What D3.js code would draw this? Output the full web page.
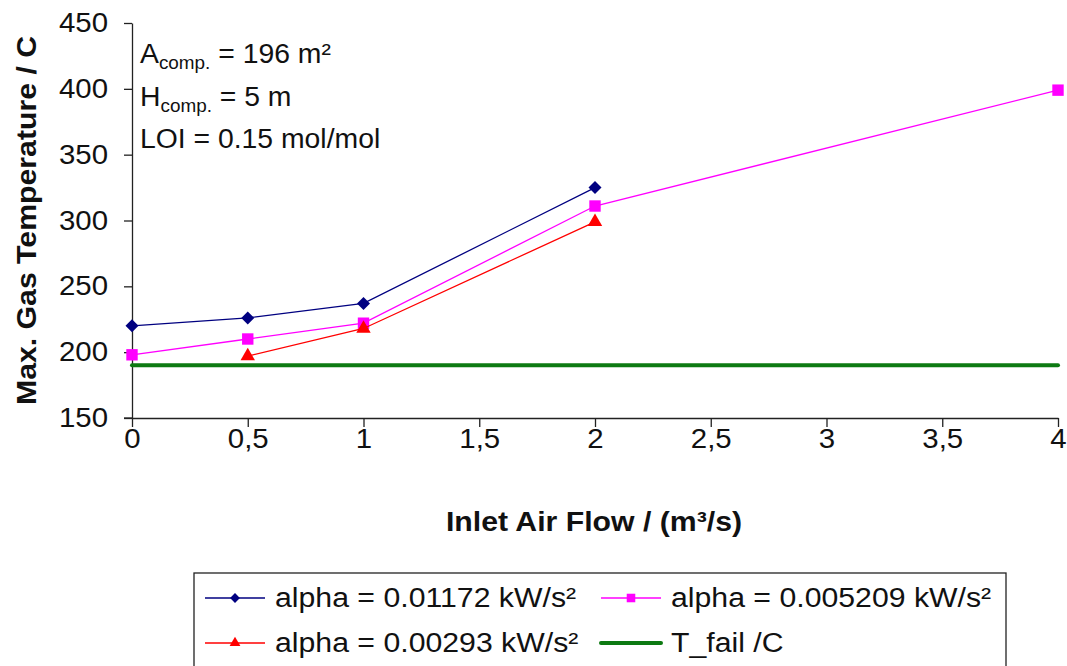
<!DOCTYPE html>
<html>
<head>
<meta charset="utf-8">
<script src="https://cdn.jsdelivr.net/npm/d3@7"></script>
<style>
  html, body { margin: 0; padding: 0; background: #fff; }
  svg { display: block; }
  text { font-family: "Liberation Sans", Arial, sans-serif; fill: #111; }
</style>
</head>
<body>
<svg id="chart" width="1067" height="666"></svg>
<script>
// Inlet air flow (m³/s) and max. gas temperature (C) for each fire growth rate
const flowHigh = [0, 0.5, 1, 2];
const tempHigh = [220, 226, 237, 325];          // alpha = 0.01172 kW/s²
const flowMid = [0, 0.5, 1, 2, 4];
const tempMid = [198, 210, 222, 311, 399];      // alpha = 0.005209 kW/s²
const flowLow = [0.5, 1, 2];
const tempLow = [197, 218, 299];                // alpha = 0.00293 kW/s²
const flowFail = [0, 4];
const tempFail = [190, 190];                    // T_fail /C

const xTicks = [0, 0.5, 1, 1.5, 2, 2.5, 3, 3.5, 4];
const yTicks = [150, 200, 250, 300, 350, 400, 450];

const legendLabels = [
  "alpha = 0.01172 kW/s²",
  "alpha = 0.005209 kW/s²",
  "alpha = 0.00293 kW/s²",
  "T_fail /C"
];

const svg = d3.select("#chart");
const W = 1067, H = 666;
const plot = { left: 132, right: 1058, top: 23, bottom: 418 };

svg.append("rect").attr("width", W).attr("height", H).attr("fill", "#fff");

const x = d3.scaleLinear().domain([0, 4]).range([plot.left, plot.right]);
const y = d3.scaleLinear().domain([150, 450]).range([plot.bottom, plot.top]);

const FS = 27;
const WIDE = 1.09;

// Y axis
const yAxis = svg.append("g")
  .attr("transform", `translate(${plot.left},0)`)
  .call(d3.axisLeft(y).tickValues(yTicks).tickSize(8).tickSizeOuter(0).tickPadding(16).tickFormat(d3.format("d")));
// X axis
const xAxis = svg.append("g")
  .attr("transform", `translate(0,${plot.bottom})`)
  .call(d3.axisBottom(x).tickValues(xTicks).tickSize(9).tickSizeOuter(0).tickPadding(2)
    .tickFormat(d => String(d).replace(".", ",")));

[yAxis, xAxis].forEach(g => {
  g.selectAll("path.domain").attr("stroke", "#222").attr("stroke-width", 1.3);
  g.selectAll(".tick line").attr("stroke", "#222").attr("stroke-width", 1.3);
  g.selectAll(".tick text")
    .attr("font-size", FS)
    .attr("fill", "#111")
    .style("font-family", "'Liberation Sans', Arial, sans-serif");
});
// extend the x axis line left to meet the lowest y tick
svg.append("line")
  .attr("x1", plot.left - 8).attr("x2", plot.left)
  .attr("y1", plot.bottom).attr("y2", plot.bottom)
  .attr("stroke", "#222").attr("stroke-width", 1.3);

// widen the tick label glyphs horizontally around their anchor
yAxis.selectAll(".tick text").each(function () {
  const t = d3.select(this);
  const xo = +t.attr("x");
  t.attr("x", xo / WIDE).attr("transform", `scale(${WIDE},1)`);
});
xAxis.selectAll(".tick text").attr("transform", `scale(${WIDE},1)`);

// Axis titles
svg.append("g")
  .attr("transform", `translate(${(plot.left + plot.right) / 2 - 1},531) scale(1.12,1)`)
  .append("text")
  .attr("text-anchor", "middle")
  .attr("font-size", FS).attr("font-weight", "bold")
  .text("Inlet Air Flow / (m³/s)");

svg.append("g")
  .attr("transform", `translate(36,${(plot.top + plot.bottom) / 2}) rotate(-90) scale(1.12,1)`)
  .append("text")
  .attr("text-anchor", "middle")
  .attr("font-size", FS).attr("font-weight", "bold")
  .text("Max. Gas Temperature / C");

// Annotation block
const notes = [
  { main: "A", sub: "comp.", rest: " = 196 m²", y: 63 },
  { main: "H", sub: "comp.", rest: " = 5 m", y: 106 },
  { main: "LOI = 0.15 mol/mol", sub: null, rest: null, y: 148 }
];
notes.forEach(n => {
  const t = svg.append("g")
    .attr("transform", `translate(140,${n.y}) scale(1.05,1)`)
    .append("text").attr("font-size", FS);
  t.append("tspan").text(n.main);
  if (n.sub) {
    t.append("tspan").attr("font-size", 18).attr("dy", 6).text(n.sub);
    t.append("tspan").attr("dy", -6).text(n.rest);
  }
});

// Series
const series = [
  { xs: flowHigh, ys: tempHigh, color: "#000080", marker: "diamond", width: 1.3 },
  { xs: flowMid, ys: tempMid, color: "#ff00ff", marker: "square", width: 1.3 },
  { xs: flowLow, ys: tempLow, color: "#ff0000", marker: "triangle", width: 1.3 },
  { xs: flowFail, ys: tempFail, color: "#0d7a12", marker: null, width: 4 }
];

const line = d3.line().x(d => x(d[0])).y(d => y(d[1]));

function markerPath(kind, scale) {
  if (kind === "diamond") return d3.symbol(d3.symbolSquare, 85 * scale * scale)();
  if (kind === "square") return d3.symbol(d3.symbolSquare, 130 * scale * scale)();
  if (kind === "triangle") return d3.symbol(d3.symbolTriangle, 90 * scale * scale)();
  return null;
}
function markerTransform(kind, cx, cy) {
  return kind === "diamond" ? `translate(${cx},${cy}) rotate(45)` : `translate(${cx},${cy})`;
}

// green failure line first so the data series sit above it
[series[3], series[0], series[1], series[2]].forEach(s => {
  const pts = s.xs.map((v, i) => [v, s.ys[i]]);
  svg.append("path")
    .datum(pts)
    .attr("d", line)
    .attr("fill", "none")
    .attr("stroke", s.color)
    .attr("stroke-width", s.width)
    .attr("stroke-linecap", s.marker ? "butt" : "round");
  if (s.marker) {
    svg.append("g").selectAll("path")
      .data(pts).join("path")
      .attr("d", markerPath(s.marker, 1))
      .attr("transform", d => markerTransform(s.marker, x(d[0]), y(d[1])))
      .attr("fill", s.color);
  }
});

// Legend
const lg = { left: 194, top: 573, right: 1006, bottom: 668 };
svg.append("rect")
  .attr("x", lg.left).attr("y", lg.top)
  .attr("width", lg.right - lg.left).attr("height", lg.bottom - lg.top)
  .attr("fill", "#fff").attr("stroke", "#222").attr("stroke-width", 1.3);

const legendCells = [
  { s: series[0], label: legendLabels[0], lx: 205, ly: 598 },
  { s: series[1], label: legendLabels[1], lx: 601, ly: 598 },
  { s: series[2], label: legendLabels[2], lx: 205, ly: 643 },
  { s: series[3], label: legendLabels[3], lx: 601, ly: 643 }
];
legendCells.forEach(c => {
  const g = svg.append("g");
  g.append("line")
    .attr("x1", c.lx).attr("x2", c.lx + 60)
    .attr("y1", c.ly).attr("y2", c.ly)
    .attr("stroke", c.s.color)
    .attr("stroke-width", c.s.marker ? 1.3 : 4)
    .attr("stroke-linecap", c.s.marker ? "butt" : "round");
  if (c.s.marker) {
    g.append("path")
      .attr("d", markerPath(c.s.marker, 0.75))
      .attr("transform", markerTransform(c.s.marker, c.lx + 30, c.ly))
      .attr("fill", c.s.color);
  }
  g.append("g")
    .attr("transform", `translate(${c.lx + 70},${c.ly + 9}) scale(1.12,1)`)
    .append("text")
    .attr("font-size", FS)
    .text(c.label);
});
</script>
</body>
</html>
